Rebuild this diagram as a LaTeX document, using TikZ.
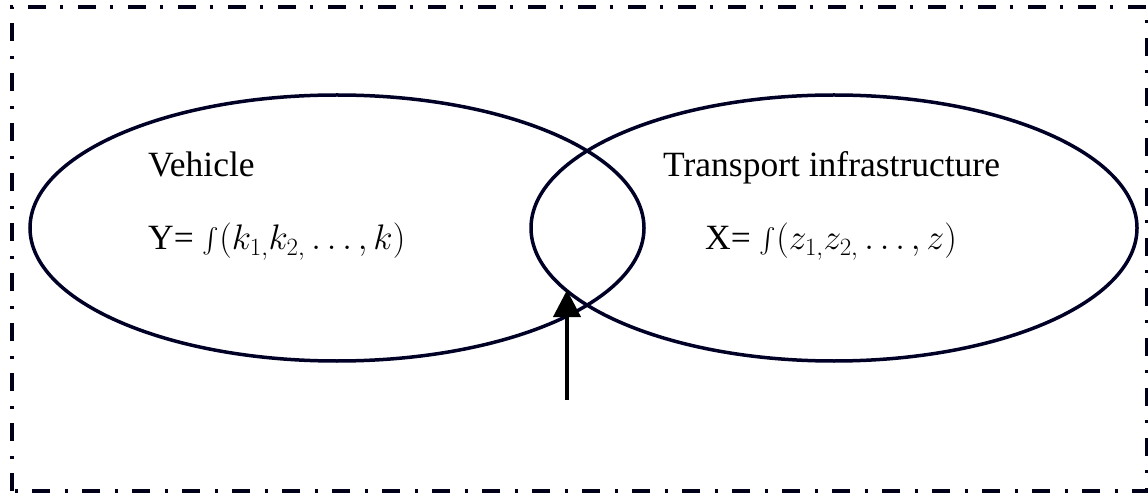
\RequirePackage{fix-cm}
\documentclass[tikz,border=0pt]{standalone}
\usepackage{amsmath}
\usepackage{exscale}
\usepackage{fontspec}
\setmainfont{Liberation Serif}
\usetikzlibrary{arrows.meta,shapes.geometric}
\begin{document}
\begin{tikzpicture}[x=1pt,y=-1pt,
  frame/.style={line width=3.5pt,dash pattern=on 18pt off 14pt on 3pt off 15pt,color=black!90!blue},
  setshape/.style={draw=black!85!blue,line width=3.5pt,ellipse,inner sep=0pt},
  lbl/.style={anchor=base west,inner sep=0pt,font=\fontsize{35.5}{40}\selectfont},
  arr/.style={line width=4pt,-{Triangle[length=27pt,width=27pt]}}]
\useasboundingbox (0,0) rectangle (1148,494);
\draw[frame] (12,491) -- (12,7) -- (1147,7) -- (1147,491) -- cycle;
\node[setshape,minimum width=614pt,minimum height=266pt] (veh) at (337,228) {};
\node[setshape,minimum width=606pt,minimum height=266pt] (inf) at (834,228) {};
\node[lbl] (vt) at (148,177) {Vehicle};
\node[lbl] (vf) at (148,250) {Y= $\int(k_{1,}k_{2,}\ldots,k)$};
\node[lbl] (it) at (663,177) {Transport infrastructure};
\node[lbl] (if) at (705,250) {X= $\int(z_{1,}z_{2,}\ldots,z)$};
\coordinate (src) at (567,400);
\coordinate (tip) at (567,290);
\draw[arr] (src) -- (tip);
\end{tikzpicture}
\end{document}
